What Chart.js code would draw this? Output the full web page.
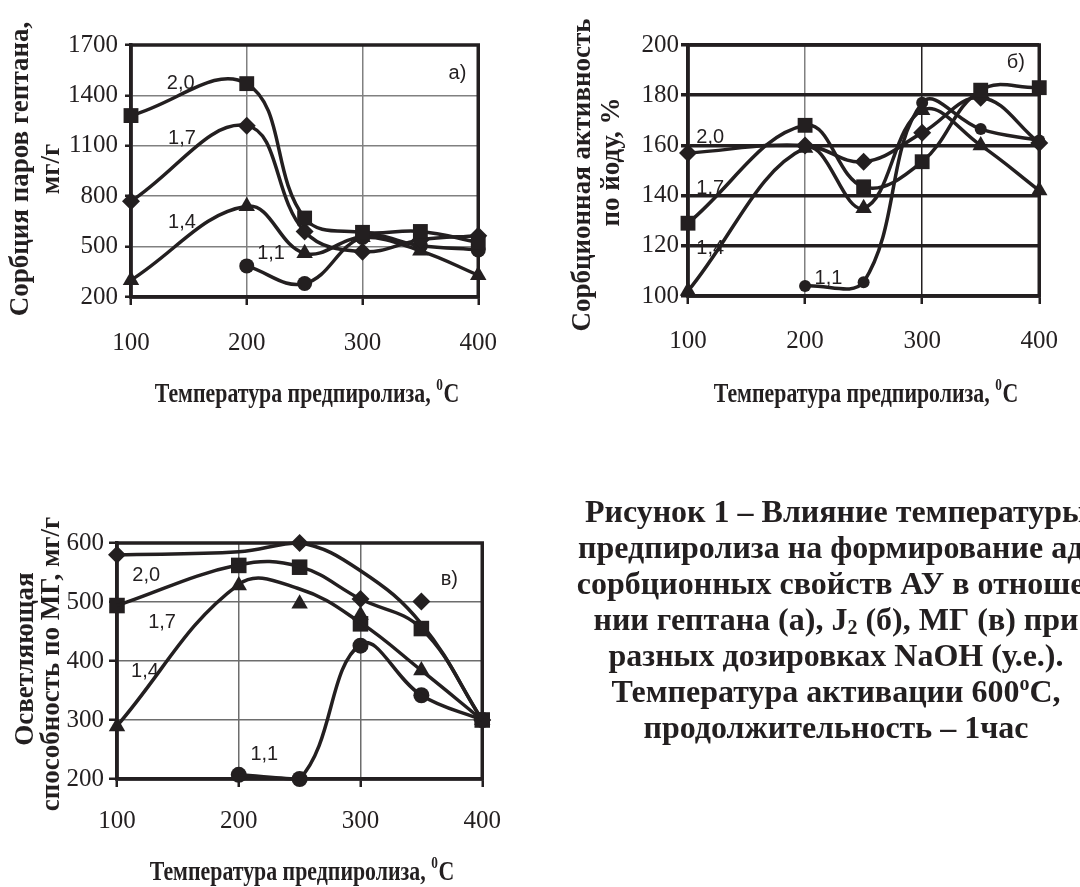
<!DOCTYPE html>
<html lang="ru">
<head>
<meta charset="UTF-8">
<title>Рисунок 1 – Влияние температуры предпиролиза</title>
<script src="https://cdn.jsdelivr.net/npm/chart.js"></script>
<style>
  html, body { margin: 0; padding: 0; background: #fff; width: 1080px; height: 887px; overflow: hidden; }
  .box { position: absolute; }
  #caption {
    position: absolute; left: 486px; top: 493px; width: 700px;
    text-align: center; white-space: nowrap; color: #231f20;
    font: bold 32px/36px "Liberation Serif", "Times New Roman", serif;
  }
  #caption sub { font-size: 20px; vertical-align: -4px; line-height: 0; }
  #caption sup { font-size: 20px; vertical-align: 12px; line-height: 0; }
</style>
</head>
<body>
<div class="box" style="left:0;top:0;width:520px;height:420px"><canvas id="chartA"></canvas></div>
<div class="box" style="left:540px;top:0;width:540px;height:420px"><canvas id="chartB"></canvas></div>
<div class="box" style="left:0;top:470px;width:520px;height:417px"><canvas id="chartC"></canvas></div>
<div id="caption">
  Рисунок 1 – Влияние температуры<br>
  предпиролиза на формирование ад-<br>
  сорбционных свойств АУ в отноше-<br>
  нии гептана (а), J<sub>2</sub> (б), МГ (в) при<br>
  разных дозировках NaOH (у.е.).<br>
  Температура активации 600<sup>o</sup>С,<br>
  продолжительность – 1час
</div>

<script>
const ink = "#231f20";
const serif = '"Liberation Serif", "Times New Roman", serif';
const sans = '"Liberation Sans", Arial, sans-serif';

// температура предпиролиза, °C
const temps = [100, 200, 250, 300, 350, 400];

// а) сорбция паров гептана, мг/г
const heptSquare = [1280, 1470, 670, 585, 590, 525];
const heptDiamond = [770, 1220, 590, 470, 540, 565];
const heptTriangle = [300, 740, 460, 555, 475, 330];
const heptCircle = [null, 385, 280, 555, 505, 480];

// б) сорбционная активность по йоду, %
const iodSquare = [129, 168, 143.5, 153.5, 182, 183];
const iodDiamond = [157, 160, 153.5, 165, 179, 161];
const iodTriangle = [102, 159, 135, 174, 160, 142];
const iodCircle = [null, 104, 105.5, 177, 166.5, 162];

// в) осветляющая способность по МГ, мг/г - curves and markers do not quite coincide in the original
const mgLineDiamond = [580, 585, 600, 553, 463, 300];
const mgLineSquare = [494, 563, 560, 505, 455, 300];
const mgLineTriangle = [290, 530, 522, 465, 384, 300];
const mgLineCircle = [null, 207, 200, 428, 342, 300];
const mgDiamond = [580, null, 600, 505, 501, 300];
const mgSquare = [494, 562, 559, 463, 455, 300];
const mgTriangle = [289, 528, 497, 478, 384, 300];
const mgCircle = [null, 207, 200, 426, 342, 300];

// dose labels (у.е. NaOH), placed in data units
const notesA = [["2,0", 143, 1471], ["1,7", 144, 1142], ["1,4", 144, 644], ["1,1", 221, 460], ["а)", 382, 1531]];
const notesB = [["2,0", 119, 163], ["1,7", 119, 143], ["1,4", 119, 119], ["1,1", 220, 107], ["б)", 380, 193]];
const notesC = [["2,0", 124, 545], ["1,7", 137, 466], ["1,4", 123, 382], ["1,1", 221, 241], ["в)", 373, 539]];

const pts = ys => temps.map((t, i) => ({ x: t, y: ys[i] }));

function series(ys, shape, r, line = true, marks = true) {
  return {
    data: pts(ys),
    borderColor: ink,
    backgroundColor: ink,
    borderWidth: 3.5,
    tension: 0.4,
    showLine: line,
    pointStyle: shape,
    pointRadius: marks ? r : 0,
    pointHoverRadius: marks ? r : 0,
    pointBorderWidth: 0,
    clip: false,
  };
}

const tickFont = { family: serif, size: 25 };
const plain = v => String(v);

function scales(o) {
  return {
    x: {
      type: "linear", min: 100, max: 400,
      ticks: { stepSize: 100, padding: o.xPad, color: ink, font: tickFont, callback: plain },
      grid: { color: o.xGrid, lineWidth: 1.5, tickLength: 8, tickColor: ink, tickWidth: 2.5 },
      border: { color: ink, width: 3.5 },
      afterFit: s => { s.height = o.xHeight; },
    },
    y: {
      min: o.min, max: o.max,
      ticks: { stepSize: o.step, padding: o.yPad, color: ink, font: tickFont, callback: plain },
      grid: { color: o.yGrid, lineWidth: o.yGridWidth, tickLength: o.yTick, tickColor: ink, tickWidth: o.yTickWidth },
      border: { color: ink, width: 3.5 },
      afterFit: s => { s.width = o.yWidth; },
    },
  };
}

const frame = {
  id: "frame",
  beforeDatasetsDraw(chart) {
    const { ctx, chartArea: a } = chart;
    ctx.save();
    ctx.strokeStyle = ink;
    ctx.lineWidth = 3.5;
    ctx.strokeRect(a.left, a.top, a.right - a.left, a.bottom - a.top);
    ctx.restore();
  },
};

function notes(items) {
  return {
    id: "notes",
    afterDatasetsDraw(chart) {
      const { ctx, scales: { x, y } } = chart;
      ctx.save();
      ctx.font = "20px " + sans;
      ctx.fillStyle = ink;
      ctx.textAlign = "center";
      ctx.textBaseline = "middle";
      items.forEach(([t, vx, vy]) => ctx.fillText(t, x.getPixelForValue(vx), y.getPixelForValue(vy)));
      ctx.restore();
    },
  };
}

// axis titles: y title is rotated (two lines), x title is set condensed like the original
function titles(t) {
  return {
    id: "titles",
    afterDraw(chart) {
      const { ctx, chartArea: a } = chart;
      ctx.save();
      ctx.fillStyle = ink;
      ctx.textBaseline = "middle";
      ctx.textAlign = "center";
      ctx.font = "bold 27px " + serif;
      t.y.forEach(([line, px, py]) => {
        ctx.save();
        ctx.translate(px, py);
        ctx.rotate(-Math.PI / 2);
        ctx.fillText(line, 0, 0);
        ctx.restore();
      });

      const main = "Температура предпиролиза, ";
      const big = "bold 28px " + serif, small = "bold 17px " + serif;
      ctx.font = big;
      const w1 = ctx.measureText(main).width, w3 = ctx.measureText("C").width;
      ctx.font = small;
      const w2 = ctx.measureText("0").width;
      ctx.translate((a.left + a.right) / 2 + 2, t.xY);
      ctx.scale(0.78, 1);
      ctx.textAlign = "left";
      let x0 = -(w1 + w2 + w3) / 2;
      ctx.font = big;
      ctx.fillText(main, x0, 0);
      ctx.font = small;
      ctx.fillText("0", x0 + w1, -9);
      ctx.font = big;
      ctx.fillText("C", x0 + w1 + w2 + 1, 0);
      ctx.restore();
    },
  };
}

const base = {
  responsive: true,
  maintainAspectRatio: false,
  animation: false,
  plugins: { legend: { display: false }, tooltip: { enabled: false } },
};

new Chart(document.getElementById("chartA"), {
  type: "line",
  data: {
    datasets: [
      series(heptSquare, "rect", 10.5),
      series(heptDiamond, "rectRot", 9),
      series(heptTriangle, "triangle", 9.5),
      series(heptCircle, "circle", 7.5),
    ],
  },
  options: {
    ...base,
    layout: { padding: { top: 45, right: 31, left: 0, bottom: 0 } },
    scales: scales({
      min: 200, max: 1700, step: 300, xPad: 23, yPad: 7, yTick: 6, yTickWidth: 2.5,
      xGrid: "#808080", yGrid: "#808080", yGridWidth: 1.5, xHeight: 123, yWidth: 131,
    }),
  },
  plugins: [frame, notes(notesA), titles({
    y: [["Сорбция паров гептана,", 21, 169], ["мг/г", 52, 169]], xY: 395,
  })],
});

new Chart(document.getElementById("chartB"), {
  type: "line",
  data: {
    datasets: [
      series(iodSquare, "rect", 10.5),
      series(iodDiamond, "rectRot", 9),
      series(iodTriangle, "triangle", 9.5),
      series(iodCircle, "circle", 6),
    ],
  },
  options: {
    ...base,
    layout: { padding: { top: 45, right: 20, left: 0, bottom: 0 } },
    scales: scales({
      min: 100, max: 200, step: 20, xPad: 22, yPad: 2, yTick: 7, yTickWidth: 3.5,
      xGrid: c => (c.tick && c.tick.value === 300 ? ink : "#808080"),
      yGrid: ink, yGridWidth: 3.5, xHeight: 124, yWidth: 148,
    }),
  },
  plugins: [frame, notes(notesB), titles({
    y: [["Сорбционная активность", 43, 175], ["по йоду, %", 72, 162]], xY: 395,
  })],
});

new Chart(document.getElementById("chartC"), {
  type: "line",
  data: {
    datasets: [
      series(mgLineDiamond, "rectRot", 0, true, false),
      series(mgLineSquare, "rect", 0, true, false),
      series(mgLineTriangle, "triangle", 0, true, false),
      series(mgLineCircle, "circle", 0, true, false),
      series(mgDiamond, "rectRot", 9, false),
      series(mgSquare, "rect", 11, false),
      series(mgTriangle, "triangle", 9.5, false),
      series(mgCircle, "circle", 8, false),
    ],
  },
  options: {
    ...base,
    layout: { padding: { top: 73, right: 32, left: 0, bottom: 0 } },
    scales: scales({
      min: 200, max: 600, step: 100, xPad: 19, yPad: 5, yTick: 8, yTickWidth: 2.5,
      xGrid: "#6d6d6d", yGrid: "#6d6d6d", yGridWidth: 1.5, xHeight: 108, yWidth: 117,
    }),
  },
  plugins: [frame, notes(notesC), titles({
    y: [["Осветляющая", 26, 189], ["способность по МГ, мг/г", 52, 194]], xY: 403,
  })],
});
</script>
</body>
</html>
